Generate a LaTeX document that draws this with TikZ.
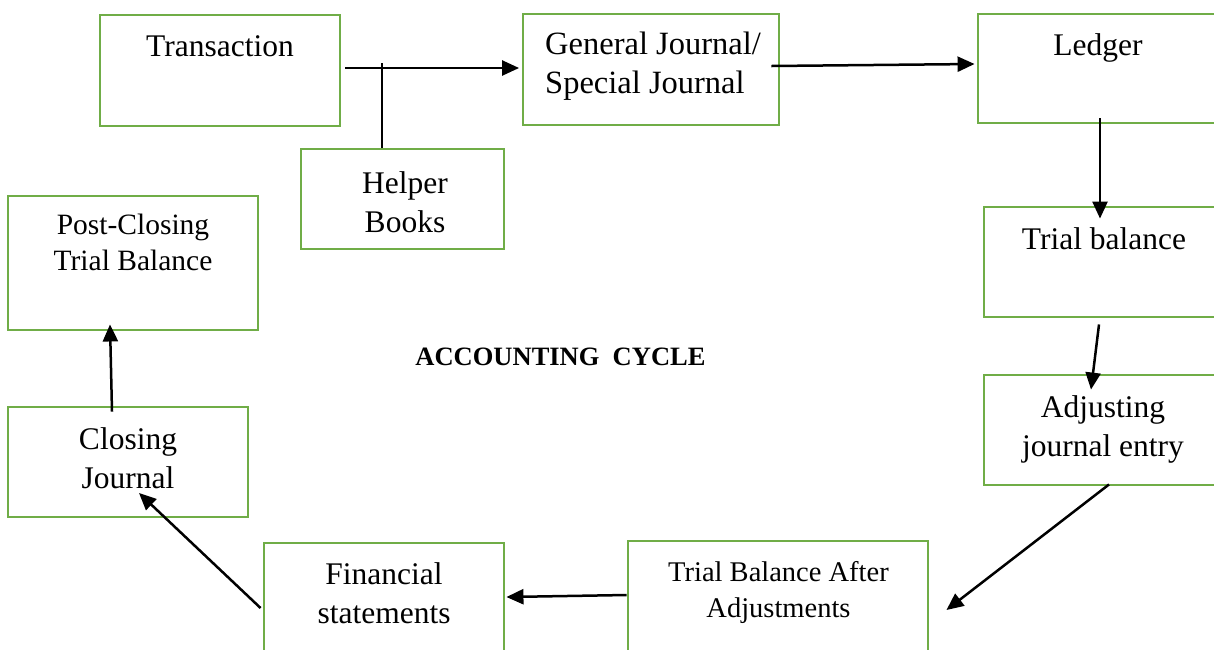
\documentclass[tikz,border=0pt]{standalone}
\usepackage{fontspec}
\setmainfont{Liberation Serif}
\usepackage{tikz}
\usetikzlibrary{arrows.meta, calc}

\definecolor{boxgreen}{HTML}{70AD47}

\tikzset{
  stagebox/.style={draw=boxgreen, line width=2.9pt, inner sep=0pt},
  stagetext/.style={anchor=north, inner sep=0pt, align=center,
    font=\fontsize{31.5}{39}\selectfont},
  smalltext/.style={stagetext, font=\fontsize{29.5}{36}\selectfont},
  flow/.style={line width=2.5pt, -{Triangle[length=17pt,width=15pt]}},
  plain/.style={line width=2.5pt}
}

\begin{document}
\begin{tikzpicture}[line cap=butt,line join=miter,x=1pt,y=-1pt]
\useasboundingbox (0,0) rectangle (1214,649);
\clip (0,0) rectangle (1214,649);

% boxes
\node[stagebox, minimum width=240, minimum height=111] (tran)    at (220,70.5) {};
\node[stagebox, minimum width=256, minimum height=111] (gj)      at (651,69.5) {};
\node[stagebox, minimum width=244, minimum height=109] (ledger)  at (1100,68.5) {};
\node[stagebox, minimum width=203, minimum height=100] (helper)  at (402.5,199) {};
\node[stagebox, minimum width=250, minimum height=134] (pctb)    at (133,263) {};
\node[stagebox, minimum width=238, minimum height=110] (tb)      at (1103,262) {};
\node[stagebox, minimum width=238, minimum height=110] (adj)     at (1103,430) {};
\node[stagebox, minimum width=240, minimum height=110] (closing) at (128,462) {};
\node[stagebox, minimum width=240, minimum height=117] (fin)     at (384,601.5) {};
\node[stagebox, minimum width=300, minimum height=119] (tba)     at (778,600.5) {};

% texts
\node[stagetext] (tran-t) at (220,35) {Transaction};
\node[stagetext, anchor=north west, align=left,
  font=\fontsize{32.5}{39}\selectfont] (gj-t) at (545,32) {General Journal/\\Special Journal};
\node[stagetext] (ledger-t) at (1098,33) {Ledger};
\node[stagetext] (helper-t) at (405,171) {Helper\\Books};
\node[smalltext] (pctb-t) at (133,214) {Post-Closing\\Trial Balance};
\node[stagetext] (tb-t) at (1104,227) {Trial balance};
\node[stagetext] (adj-t) at (1103,395) {Adjusting\\journal entry};
\node[stagetext] (closing-t) at (128,427) {Closing\\Journal};
\node[stagetext] (fin-t) at (384,562) {Financial\\statements};
\node[stagetext, font=\fontsize{28.5}{36.5}\selectfont] (tba-t) at (778.5,561) {Trial Balance After\\Adjustments};
\node[stagetext, font=\fontsize{26.5}{30}\selectfont\bfseries] (title) at (560.5,348) {ACCOUNTING\ \ CYCLE};

% connectors
\coordinate (hj) at (382,63);
\draw[plain] (hj |- helper.north) -- (hj);
\draw[flow] ($(tran.east)+(4,-2.5)$) -- ($(gj.west)+(-2.5,-1.5)$);
\draw[flow] ($(gj.east)+(-9,-3.5)$) -- ($(ledger.west)+(-2,-4.5)$);
\draw[flow] ($(ledger.south)+(0,-6)$) -- ($(tb.north)+(-3,13)$);
\draw[flow] ($(tb.south)+(-4,6)$) -- ($(adj.north)+(-12,16)$);
\draw[flow] ($(adj.south)+(6,-2)$) -- ($(tba.east)+(17,9.5)$);
\draw[flow] ($(tba.west)+(0,-5.5)$) -- ($(fin.east)+(1,-4.5)$);
\draw[flow] ($(fin.west)+(-2,6.5)$) -- ($(closing.center)+(11,31)$);
\draw[flow] ($(closing.north)+(-16,6)$) -- ($(pctb.south)+(-23,-7)$);

\end{tikzpicture}
\end{document}
